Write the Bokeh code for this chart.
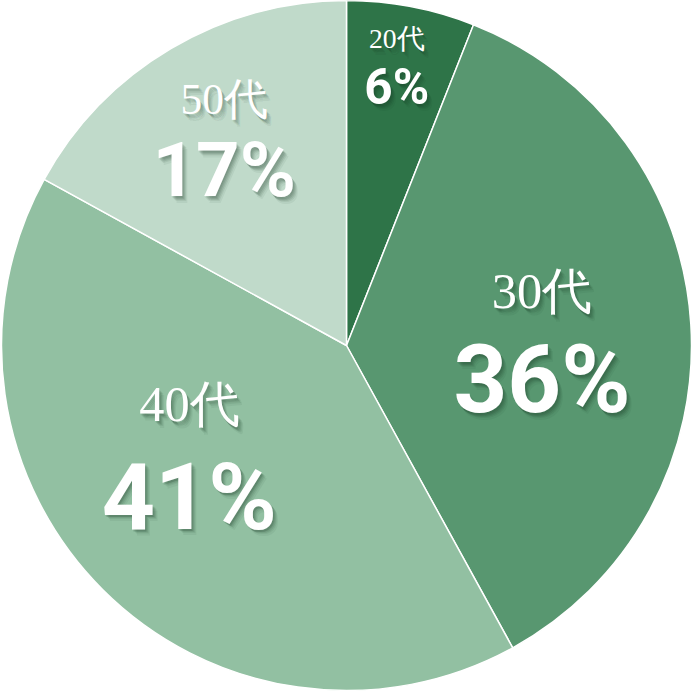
import math
from bokeh.plotting import figure
from bokeh.models import Range1d, ColumnDataSource
from bokeh.core.properties import value
from bokeh.embed import file_html
from bokeh.resources import INLINE

# data
categories = ["20代", "30代", "40代", "50代"]
percents = [6, 36, 41, 17]
pct_labels = ["6%", "36%", "41%", "17%"]
colors = ["#2e7448", "#589770", "#92c0a2", "#c0daca"]

# label styling (placement tweaks)
label_radius = [290, 198, 194, 246]
label_angle_tweak = [0.7, -1.0, -10.0, -0.4]
cat_sizes = [28, 51, 51, 44]
pct_sizes = [50, 95, 94, 77]
cat_dy = [-25, -46, -52, -37]
pct_dy = [24, 44, 42, 35]

R = 349
total = sum(percents)
starts, ends, lx, ly = [], [], [], []
a = math.pi / 2
for i, v in enumerate(percents):
    sweep = 2 * math.pi * v / total
    e = a
    s = a - sweep
    starts.append(s)
    ends.append(e)
    mid = (s + e) / 2 + math.radians(label_angle_tweak[i])
    lx.append(label_radius[i] * math.cos(mid))
    ly.append(label_radius[i] * math.sin(mid))
    a = s

src = ColumnDataSource(dict(start=starts, end=ends, color=colors,
                            x=[0] * 4, y=[0] * 4))

W = 692
k = W / 700.0
p = figure(width=W, height=W, output_backend="svg", toolbar_location=None,
           x_range=Range1d(-350, 350), y_range=Range1d(-351, 349),
           min_border=0, outline_line_color=None)
p.axis.visible = False
p.grid.visible = False
p.background_fill_color = "white"
p.border_fill_color = "white"

p.wedge(x="x", y="y", radius=R, start_angle="start", end_angle="end",
        fill_color="color", line_color="white", line_width=1.5, source=src)

serif = value("Liberation Serif")
sans = value("Roboto")
for i in range(4):
    for (dx, dy, al) in [(1, 2, 0.11), (2, 3, 0.11), (3, 4, 0.10), (4, 5, 0.08), (5, 7, 0.06)]:
        p.text(x=[lx[i]], y=[ly[i]], text=[categories[i]],
               text_font=serif, text_font_size=f"{cat_sizes[i]*k:.1f}px",
               text_color="#10301c", text_alpha=al, text_align="center",
               text_baseline="middle", x_offset=dx, y_offset=(cat_dy[i] + dy) * k)
        p.text(x=[lx[i]], y=[ly[i]], text=[pct_labels[i]],
               text_font=sans, text_font_style="bold",
               text_font_size=f"{pct_sizes[i]*k:.1f}px",
               text_color="#10301c", text_alpha=al, text_align="center",
               text_baseline="middle", x_offset=dx, y_offset=(pct_dy[i] + dy) * k)
    p.text(x=[lx[i]], y=[ly[i]], text=[categories[i]],
           text_font=serif, text_font_size=f"{cat_sizes[i]*k:.1f}px",
           text_color="white", text_align="center", text_baseline="middle",
           y_offset=cat_dy[i] * k)
    p.text(x=[lx[i]], y=[ly[i]], text=[pct_labels[i]],
           text_font=sans, text_font_style="bold",
           text_font_size=f"{pct_sizes[i]*k:.1f}px",
           text_color="white", text_align="center", text_baseline="middle",
           y_offset=pct_dy[i] * k)

open("out.html", "w").write(file_html(p, INLINE))
